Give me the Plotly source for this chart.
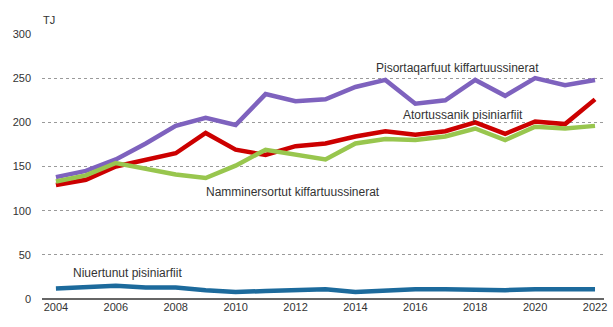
import plotly.graph_objects as go

years = list(range(2004, 2023))
pisortaqarfuut = [138, 145, 158, 176, 196, 205, 197, 232, 224, 226, 240, 248, 221, 225, 248, 230, 250, 242, 248]
atortussanik = [129, 135, 150, 157, 165, 188, 169, 163, 173, 176, 184, 190, 186, 190, 200, 187, 201, 198, 226]
namminersortut = [133, 140, 154, 148, 141, 137, 151, 169, 163, 158, 176, 181, 180, 184, 193, 180, 195, 193, 196]
niuertunut = [12, 14, 15, 13, 13, 10, 8, 9, 10, 11, 8, 10, 11, 11, 10, 10, 11, 11, 11]

series = [
    ("Pisortaqarfuut kiffartuussinerat", pisortaqarfuut, "#7E62BE"),
    ("Atortussanik pisiniarfiit", atortussanik, "#CC0000"),
    ("Namminersortut kiffartuussinerat", namminersortut, "#98C64E"),
    ("Niuertunut pisiniarfiit", niuertunut, "#1C6A9C"),
]

fig = go.Figure()
for name, vals, col in series:
    fig.add_trace(go.Scatter(x=years, y=vals, mode="lines", name=name,
                             line=dict(color=col, width=4.5)))

font = dict(family="Liberation Sans, Arial, sans-serif", size=11, color="#333333")
afont = dict(family="Liberation Sans, Arial, sans-serif", size=12, color="#333333")
ann = [
    ("Pisortaqarfuut kiffartuussinerat", 2017.4, 261),
    ("Atortussanik pisiniarfiit", 2017.6, 208),
    ("Namminersortut kiffartuussinerat", 2011.9, 121),
    ("Niuertunut pisiniarfiit", 2006.4, 29),
]
for t, x, y in ann:
    fig.add_annotation(x=x, y=y, text=t, showarrow=False, font=afont,
                       xref="x", yref="y")
fig.add_annotation(x=0.0, y=1.0, xref="paper", yref="paper", text="TJ",
                   showarrow=False, font=font, xanchor="left", yanchor="bottom",
                   xshift=-1, yshift=6)

fig.update_layout(
    width=613, height=327,
    margin=dict(l=42, r=6, t=34, b=28),
    plot_bgcolor="white", paper_bgcolor="white",
    showlegend=False, font=font,
)
fig.update_xaxes(range=[2003.535, 2022.3], tickmode="array",
                 tickvals=list(range(2004, 2023, 2)), showgrid=False,
                 zeroline=False, showline=False, ticks="", tickfont=font)
fig.update_yaxes(range=[0, 300], tickvals=[0, 50, 100, 150, 200, 250, 300],
                 showgrid=True, gridcolor="#9a9a9a", griddash="dot", gridwidth=1,
                 zeroline=True, zerolinecolor="#666666", zerolinewidth=1.5,
                 ticks="", tickfont=font, ticklabelstandoff=10)

fig.write_html("out.html")
